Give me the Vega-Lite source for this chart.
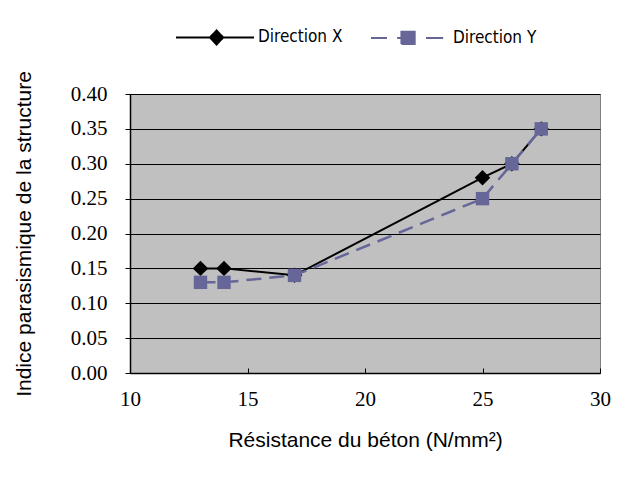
{
  "$schema": "https://vega.github.io/schema/vega-lite/v6.json",
  "autosize": "none",
  "width": 470,
  "height": 279,
  "padding": {"left": 130, "top": 94, "right": 23, "bottom": 105},
  "background": "white",
  "data": {
    "values": [
      {"resistance": 13, "indice": 0.15, "direction": "Direction X"},
      {"resistance": 14, "indice": 0.15, "direction": "Direction X"},
      {"resistance": 17, "indice": 0.14, "direction": "Direction X"},
      {"resistance": 25, "indice": 0.28, "direction": "Direction X"},
      {"resistance": 26.25, "indice": 0.30, "direction": "Direction X"},
      {"resistance": 27.5, "indice": 0.35, "direction": "Direction X"},
      {"resistance": 13, "indice": 0.13, "direction": "Direction Y"},
      {"resistance": 14, "indice": 0.13, "direction": "Direction Y"},
      {"resistance": 17, "indice": 0.14, "direction": "Direction Y"},
      {"resistance": 25, "indice": 0.25, "direction": "Direction Y"},
      {"resistance": 26.25, "indice": 0.30, "direction": "Direction Y"},
      {"resistance": 27.5, "indice": 0.35, "direction": "Direction Y"}
    ]
  },
  "encoding": {
    "x": {
      "field": "resistance",
      "type": "quantitative",
      "scale": {"domain": [10, 30], "nice": false, "zero": false},
      "axis": {
        "title": "Résistance du béton (N/mm²)",
        "values": [10, 15, 20, 25, 30],
        "grid": false,
        "labelFlush": false,
        "tickSize": -5,
        "labelPadding": 20,
        "titlePadding": 20,
        "encode": {"labels": {"update": {"font": {"value": "Liberation Serif, serif"}}}}
      }
    },
    "y": {
      "field": "indice",
      "type": "quantitative",
      "scale": {"domain": [0, 0.4], "nice": false},
      "axis": {
        "title": "Indice parasismique de la structure",
        "values": [0, 0.05, 0.1, 0.15, 0.2, 0.25, 0.3, 0.35, 0.4],
        "format": ".2f",
        "grid": true,
        "labelFlush": false,
        "tickSize": 5,
        "labelPadding": 18,
        "titlePadding": 36,
        "encode": {"labels": {"update": {"font": {"value": "Liberation Serif, serif"}}}}
      }
    },
    "color": {
      "field": "direction",
      "type": "nominal",
      "scale": {"domain": ["Direction X", "Direction Y"], "range": ["#000000", "#666699"]},
      "legend": {
        "title": null,
        "orient": "none",
        "legendX": 45,
        "legendY": -97,
        "direction": "horizontal",
        "columnPadding": 24,
        "labelOffset": 3,
        "symbolSize": 6084,
        "encode": {
          "symbols": {
            "update": {
              "shape": {"signal": "datum.value === 'Direction X' ? 'M-1,0H1M0.04,-0.18L0.21,0L0.04,0.18L-0.13,0Z' : 'M-1,0H-0.59M-0.33,0H-0.2M0.41,0H0.85M-0.22,-0.16H0.12V0.16H-0.22Z'"},
              "fill": {"scale": "color", "field": "value"},
              "stroke": {"scale": "color", "field": "value"},
              "strokeWidth": {"value": 2},
              "strokeDash": {"value": [1, 0]},
              "opacity": {"value": 1},
              "size": {"value": 6084}
            }
          }
        }
      }
    }
  },
  "layer": [
    {
      "transform": [{"filter": "datum.direction === 'Direction X'"}],
      "mark": {"type": "line", "strokeWidth": 2}
    },
    {
      "transform": [{"filter": "datum.direction === 'Direction X'"}],
      "mark": {"type": "point", "shape": "diamond", "filled": true, "size": 240, "opacity": 1}
    },
    {
      "transform": [{"filter": "datum.direction === 'Direction Y'"}],
      "mark": {"type": "line", "strokeWidth": 2.5, "strokeDash": [15, 8]}
    },
    {
      "transform": [{"filter": "datum.direction === 'Direction Y'"}],
      "mark": {"type": "point", "shape": "square", "filled": true, "size": 180, "opacity": 1}
    }
  ],
  "config": {
    "view": {"fill": "#C0C0C0", "stroke": "#808080", "strokeWidth": 1},
    "style": {"guide-label": {"font": "Liberation Serif, serif"}},
    "axis": {
      "domainColor": "#000000",
      "domainWidth": 1.5,
      "tickColor": "#000000",
      "tickWidth": 1,
      "gridColor": "#000000",
      "gridWidth": 1,
      "gridOpacity": 1,
      "labelFont": "Liberation Serif, serif",
      "labelFontSize": 21,
      "labelColor": "#000000",
      "titleFont": "Liberation Sans",
      "titleFontSize": 21,
      "titleFontWeight": "normal",
      "titleColor": "#000000"
    },
    "legend": {
      "labelFont": "DejaVu Sans Condensed, Liberation Sans",
      "labelFontSize": 17,
      "labelColor": "#000000"
    }
  }
}
